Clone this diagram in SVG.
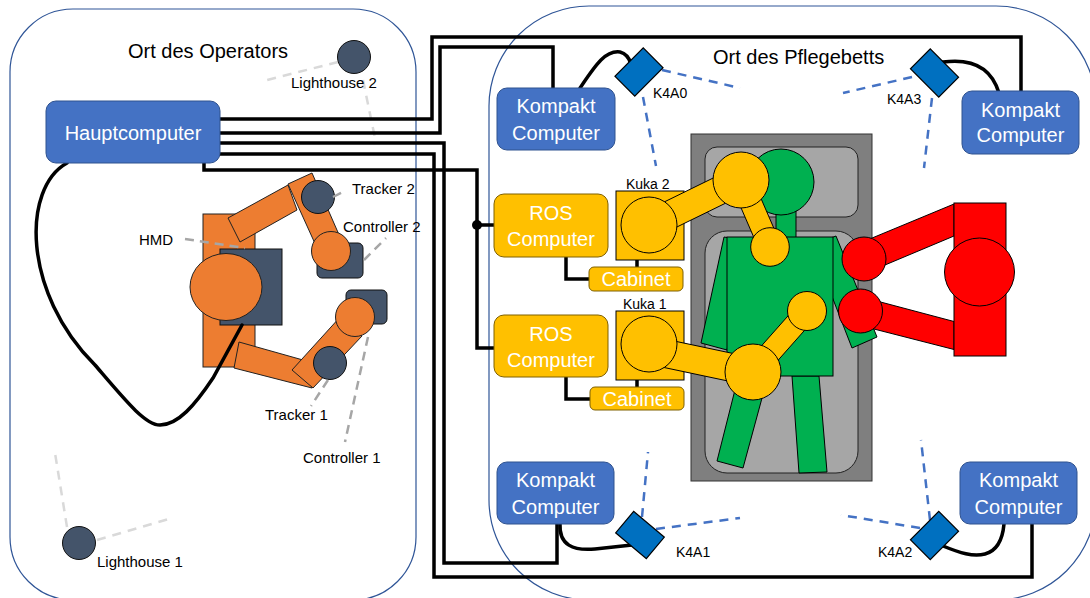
<svg xmlns="http://www.w3.org/2000/svg" width="1090" height="598" viewBox="0 0 1090 598">
<defs>
<style>
text{font-family:"Liberation Sans",Arial,sans-serif}
.zone{fill:#fff;stroke:#2F5597;stroke-width:1.2}
.title{font-size:20px;fill:#000}
.lbl{font-size:15px;fill:#000}
.klbl{font-size:14px;fill:#000}
.pc{fill:#4472C4;stroke:#2F528F;stroke-width:1}
.wt{font-size:20px;fill:#fff;text-anchor:middle}
.ros{fill:#FFC000;stroke:#7F6000;stroke-width:1}
.wire{fill:none;stroke:#000;stroke-width:3.5}
.cable{fill:none;stroke:#000;stroke-width:3.5;stroke-linecap:round}
.ray{fill:none;stroke:#4472C4;stroke-width:2.5;stroke-dasharray:9 7}
.lh{fill:none;stroke:#D9D9D9;stroke-width:2.5;stroke-dasharray:9 7}
.lead{fill:none;stroke:#A6A6A6;stroke-width:2.5;stroke-dasharray:9 6}
.k4a{fill:#0070C0;stroke:#000;stroke-width:1.2}
.or{fill:#ED7D31;stroke:#222;stroke-width:1}
.sl{fill:#44546A;stroke:#111;stroke-width:1}
.yl{fill:#FFC000;stroke:#000;stroke-width:1}
.gr{fill:#00B050;stroke:#000;stroke-width:1}
.rd{fill:#FF0000;stroke:#000;stroke-width:1}
</style>
</defs>

<!-- rooms -->
<g id="room-operator">
  <rect class="zone" x="10" y="9" width="406" height="591" rx="63"/>
  <text class="title" x="128" y="58">Ort des Operators</text>
</g>
<g id="room-bed">
  <rect class="zone" x="489" y="6" width="607" height="594" rx="100"/>
  <text class="title" x="713" y="64">Ort des Pflegebetts</text>
</g>

<!-- lighthouses -->
<g id="lighthouse-2">
  <path class="lh" d="M338,62 L263,81 M363,80 L375,138"/>
  <circle class="sl" cx="354" cy="57" r="16.5"/>
  <text class="lbl" x="291" y="88">Lighthouse 2</text>
</g>
<g id="lighthouse-1">
  <path class="lh" d="M67,527 L55,453 M97,540 L172,518"/>
  <circle class="sl" cx="79" cy="543" r="16.5"/>
  <text class="lbl" x="97" y="567">Lighthouse 1</text>
</g>

<!-- operator with HMD, trackers and controllers -->
<g id="operator">
  <rect class="or" x="203" y="214" width="52" height="153"/>
  <polygon class="or" points="228,218 288,185 297,210 240,242"/>
  <polygon class="or" points="288,184 312,173 340,237 317,248"/>
  <polygon class="or" points="239,342 234,368 312,388 303,360"/>
  <polygon class="or" points="292,370 313,388 362,336 341,316"/>
  <rect class="sl" x="220" y="249" width="62" height="76"/>
  <ellipse class="or" cx="226" cy="287" rx="36" ry="33.5"/>
</g>
<g id="controller-2">
  <rect class="sl" x="317" y="243" width="46" height="35" rx="5"/>
  <circle class="or" cx="331" cy="251" r="19.5"/>
</g>
<g id="tracker-2">
  <circle class="sl" cx="318" cy="197" r="16.5"/>
</g>
<g id="controller-1">
  <rect class="sl" x="346" y="290" width="41" height="34" rx="5"/>
  <circle class="or" cx="355" cy="317" r="19.5"/>
</g>
<g id="tracker-1">
  <circle class="sl" cx="330" cy="363" r="16.5"/>
</g>
<g id="operator-labels">
  <path class="lead" d="M185,239 L245,248 M333,197 L345,191 M364,260 L386,238 M328,380 L311,406 M368,337 L345,442"/>
  <text class="lbl" x="139" y="245">HMD</text>
  <text class="lbl" x="352" y="194">Tracker 2</text>
  <text class="lbl" x="343" y="232">Controller 2</text>
  <text class="lbl" x="265" y="420">Tracker 1</text>
  <text class="lbl" x="303" y="463">Controller 1</text>
</g>

<!-- care bed with patient -->
<g id="bed">
  <rect x="691" y="134" width="181" height="347" fill="#7F7F7F" stroke="#333" stroke-width="1"/>
  <rect x="705" y="147" width="153" height="70" rx="12" fill="#A6A6A6" stroke="#222" stroke-width="1"/>
  <rect x="705" y="231" width="153" height="242" rx="22" fill="#A6A6A6" stroke="#222" stroke-width="1"/>
</g>
<g id="patient">
  <polygon class="gr" points="740,370 768,376 743,468 717,461"/>
  <polygon class="gr" points="792,376 819,376 827,472 799,473"/>
  <polygon class="gr" points="724,237 748,241 727,350 701,343"/>
  <polygon class="gr" points="812,245 836,236 877,337 852,348"/>
  <rect class="gr" x="776" y="210" width="20" height="30"/>
  <rect class="gr" x="727" y="237" width="106" height="139"/>
  <circle class="gr" cx="781" cy="182" r="33"/>
</g>

<!-- Kuka robots -->
<g id="kuka-2">
  <rect class="yl" x="616" y="191" width="68" height="69"/>
  <polygon class="yl" points="642.9,212.4 734.9,167.4 747.2,192.6 655.2,237.6"/>
  <circle class="yl" cx="649" cy="225" r="28"/>
  <polygon class="yl" points="751.1,175.6 780.1,242.6 759.9,251.4 730.9,184.4"/>
  <circle class="yl" cx="741" cy="180" r="28"/>
  <circle class="yl" cx="770" cy="247" r="19.3"/>
  <text class="klbl" x="626" y="189">Kuka 2</text>
</g>
<g id="kuka-1">
  <rect class="yl" x="616" y="311" width="68" height="69"/>
  <polygon class="yl" points="651.9,336.3 755.9,358.3 750.1,385.7 646.1,363.7"/>
  <circle class="yl" cx="649" cy="344" r="28"/>
  <polygon class="yl" points="761.2,379.3 815.2,318.3 798.8,303.7 744.8,364.7"/>
  <circle class="yl" cx="753" cy="372" r="28"/>
  <circle class="yl" cx="807" cy="311" r="19.5"/>
  <text class="klbl" x="623" y="309">Kuka 1</text>
</g>

<!-- assisting robot on the right -->
<g id="red-robot">
  <polygon class="rd" points="857.2,244.2 954,204 954,236 868.8,271.8"/>
  <polygon class="rd" points="863.6,297.5 954,321.5 954,349.5 856.4,324.5"/>
  <rect class="rd" x="954" y="203" width="52" height="153"/>
  <ellipse class="rd" cx="979.5" cy="272" rx="35" ry="34"/>
  <circle class="rd" cx="864" cy="259" r="22"/>
  <circle class="rd" cx="860.5" cy="311" r="22"/>
</g>

<!-- connectors: network wires, cables and camera view rays -->
<g id="connectors">
  <path class="wire" d="M220,119 H432 V37 H1021 V91"/>
  <path class="wire" d="M220,133 H440 V47 H553 V88"/>
  <path class="wire" d="M220,143 H444 V563 H557 V524"/>
  <path class="wire" d="M220,154 H434 V577 H1032 V524"/>
  <path class="wire" d="M204,163 V170 H477 V348 H494 M477,225 H494"/>
  <circle cx="477" cy="225" r="5" fill="#000"/>
  <path class="wire" d="M566,257 V279 H589 M566,377 V399 H590 M637,260 V267 M637,380 V387"/>
  <path class="cable" d="M67,163 C22,188 22,292 95,365 C125,400 145,425 160,425 C178,425 195,405 213,378 L242,325"/>
  <path class="cable" d="M580,88 C595,66 605,50 620,52 Q628,54 631,64"/>
  <path class="cable" d="M943,62 Q988,56 999,93"/>
  <path class="cable" d="M560,524 C559,545 573,551 595,549 L632,545"/>
  <path class="cable" d="M943,546 C960,553 973,557 985,554 C1000,550 1003,535 1004,524"/>
  <path class="ray" d="M662,70 L740,88 M643,97 L656,166"/>
  <path class="ray" d="M912,77 L843,93 M932,98 L924,168"/>
  <path class="ray" d="M642,517 L648,452 M656,529 L740,518"/>
  <path class="ray" d="M930,520 L921,440 M920,528 L841,515"/>
</g>

<!-- computers -->
<g id="hauptcomputer">
  <rect class="pc" x="46" y="101" width="174" height="62" rx="10"/>
  <text class="wt" x="133" y="140">Hauptcomputer</text>
</g>
<g id="kompakt-tl">
  <rect class="pc" x="497" y="88" width="118" height="62" rx="10"/>
  <text class="wt" x="556" y="113">Kompakt</text>
  <text class="wt" x="556" y="140">Computer</text>
</g>
<g id="kompakt-tr">
  <rect class="pc" x="962" y="91" width="117" height="63" rx="10"/>
  <text class="wt" x="1020.5" y="117">Kompakt</text>
  <text class="wt" x="1020.5" y="142">Computer</text>
</g>
<g id="kompakt-bl">
  <rect class="pc" x="497" y="462" width="117" height="62" rx="10"/>
  <text class="wt" x="555.5" y="487">Kompakt</text>
  <text class="wt" x="555.5" y="514">Computer</text>
</g>
<g id="kompakt-br">
  <rect class="pc" x="960" y="462" width="117" height="62" rx="10"/>
  <text class="wt" x="1018.5" y="487">Kompakt</text>
  <text class="wt" x="1018.5" y="514">Computer</text>
</g>
<g id="ros-1">
  <rect class="ros" x="494" y="194" width="114" height="63" rx="10"/>
  <text class="wt" x="551" y="220">ROS</text>
  <text class="wt" x="551" y="246">Computer</text>
</g>
<g id="ros-2">
  <rect class="ros" x="494" y="315" width="114" height="62" rx="10"/>
  <text class="wt" x="551" y="341">ROS</text>
  <text class="wt" x="551" y="367">Computer</text>
</g>
<g id="cabinet-2">
  <rect class="ros" x="589" y="267" width="94" height="24" rx="5"/>
  <text class="wt" x="636" y="286">Cabinet</text>
</g>
<g id="cabinet-1">
  <rect class="ros" x="590" y="387" width="94" height="23" rx="5"/>
  <text class="wt" x="637" y="406">Cabinet</text>
</g>

<!-- Kinect (K4A) cameras -->
<g id="k4a0">
  <rect class="k4a" x="-20" y="-14" width="40" height="28" transform="translate(639,72) rotate(-45)"/>
  <text class="klbl" x="653" y="98">K4A0</text>
</g>
<g id="k4a3">
  <rect class="k4a" x="-20" y="-14" width="40" height="28" transform="translate(934.5,73) rotate(45)"/>
  <text class="klbl" x="887" y="104">K4A3</text>
</g>
<g id="k4a1">
  <rect class="k4a" x="-20" y="-14" width="40" height="28" transform="translate(640,535) rotate(40)"/>
  <text class="klbl" x="676" y="557">K4A1</text>
</g>
<g id="k4a2">
  <rect class="k4a" x="-20" y="-14" width="40" height="28" transform="translate(934.5,535.5) rotate(-45)"/>
  <text class="klbl" x="878" y="557">K4A2</text>
</g>
</svg>
